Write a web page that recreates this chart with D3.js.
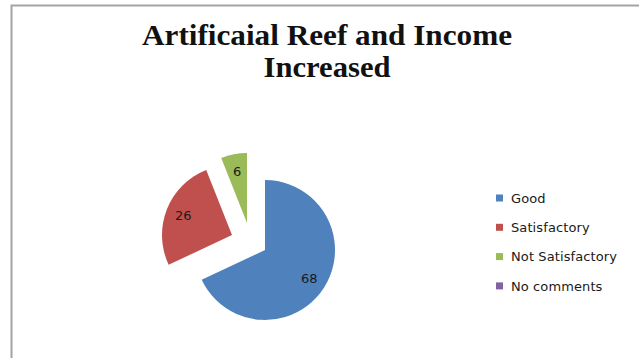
<!DOCTYPE html>
<html>
<head>
<meta charset="utf-8">
<script src="https://cdn.jsdelivr.net/npm/d3@7"></script>
<style>
  html, body { margin: 0; padding: 0; background: #fff; }
  svg { display: block; }
</style>
</head>
<body>
<svg id="chart" width="639" height="358"></svg>
<script>
// Survey responses: did the artificial reef increase income?
const categories = ["Good", "Satisfactory", "Not Satisfactory", "No comments"];
const values = [68, 26, 6, 0];
const colors = ["#4F81BD", "#C0504D", "#9BBB59", "#8064A2"];
const titleLines = ["Artificaial Reef and Income", "Increased"];

// Pull-out of each slice from the pie centre (dx, dy)
const explode = [[0, 0], [-33, -15], [-18, -27], [0, 0]];

const width = 639, height = 358;
const svg = d3.select("#chart");

// Chart area outline (only top and left edges fall inside the frame)
svg.append("path")
  .attr("d", `M11.5,${height + 2} V5.5 H${width + 2}`)
  .attr("fill", "none")
  .attr("stroke", "#a3a3a3")
  .attr("stroke-width", 2);

// Title, each line fitted to its set width
const titleWidths = [370, 127];
const title = svg.append("text")
  .attr("text-anchor", "middle")
  .attr("font-family", "'Liberation Serif', 'Times New Roman', serif")
  .attr("font-weight", "bold")
  .attr("font-size", 29)
  .attr("fill", "#111");
titleLines.forEach((line, i) => {
  title.append("tspan")
    .attr("x", 327)
    .attr("y", 44.5 + i * 32.5)
    .attr("textLength", titleWidths[i])
    .attr("lengthAdjust", "spacingAndGlyphs")
    .text(line);
});

// Pie
const cx = 265, cy = 250, r = 70;
const pie = d3.pie().sort(null).value(d => d.value).startAngle(0).endAngle(2 * Math.PI);
const data = categories.map((c, i) => ({ category: c, value: values[i], color: colors[i], ex: explode[i] }));
const arcs = pie(data);
const arc = d3.arc().innerRadius(0).outerRadius(r);
const labelArc = d3.arc().innerRadius(r * 0.75).outerRadius(r * 0.75);

const g = svg.append("g").attr("transform", `translate(${cx},${cy})`);
const slices = g.selectAll("g.slice")
  .data(arcs.filter(d => d.data.value > 0))
  .join("g")
  .attr("class", "slice")
  .attr("transform", d => `translate(${d.data.ex[0]},${d.data.ex[1]})`);

slices.append("path")
  .attr("d", arc)
  .attr("fill", d => d.data.color);

slices.append("text")
  .attr("transform", d => `translate(${labelArc.centroid(d)})`)
  .attr("text-anchor", "middle")
  .attr("dy", "0.35em")
  .attr("font-family", "'DejaVu Sans', Verdana, sans-serif")
  .attr("font-size", 13)
  .attr("fill", "#1a1a1a")
  .text(d => d.data.value);

// Legend
const legend = svg.append("g").attr("transform", "translate(496,198)");
const items = legend.selectAll("g")
  .data(data)
  .join("g")
  .attr("transform", (d, i) => `translate(0,${i * 29.3})`);
items.append("rect")
  .attr("x", 0).attr("y", -3.5)
  .attr("width", 7).attr("height", 7)
  .attr("fill", d => d.color);
items.append("text")
  .attr("x", 15)
  .attr("dy", "0.36em")
  .attr("font-family", "'DejaVu Sans', Verdana, sans-serif")
  .attr("font-size", 13)
  .attr("letter-spacing", 0.1)
  .attr("fill", "#1a1a1a")
  .text(d => d.category);
</script>
</body>
</html>
